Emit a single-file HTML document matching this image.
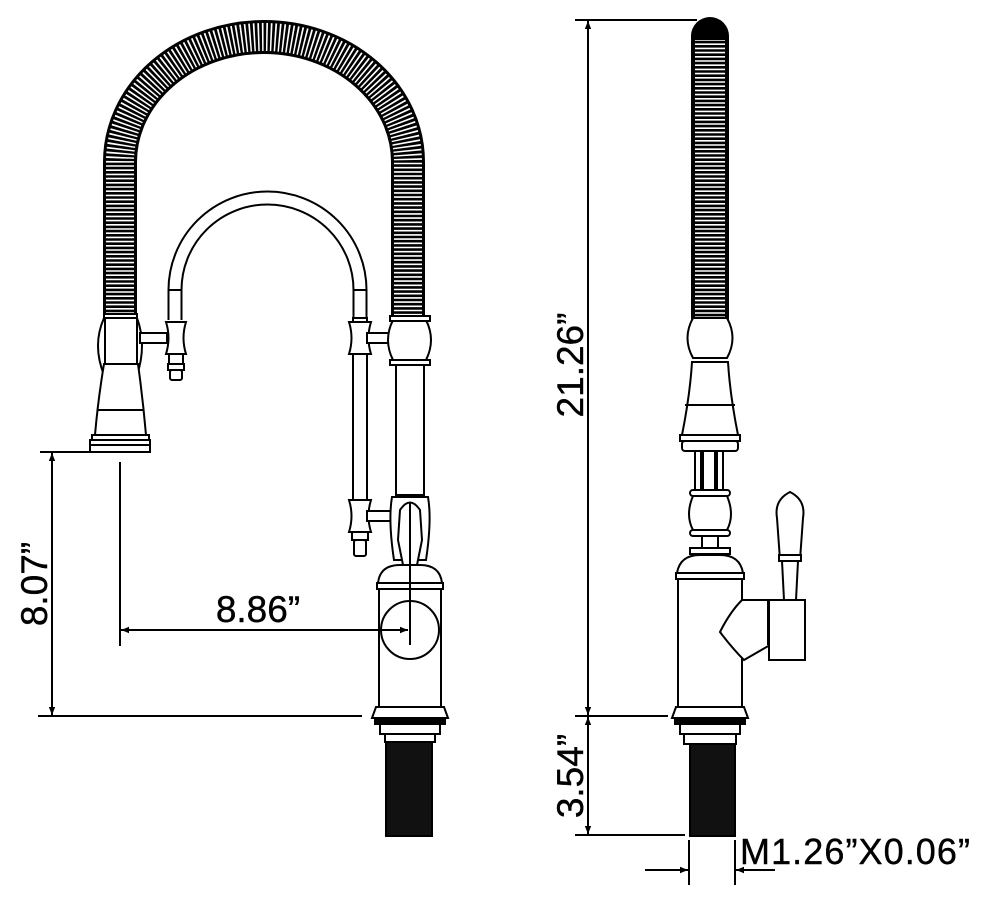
<!DOCTYPE html>
<html><head><style>
html,body{margin:0;padding:0;background:#fff;}
svg{display:block;}
text{font-family:"Liberation Sans",sans-serif;fill:#000;}
</style></head><body>
<svg width="990" height="908" viewBox="0 0 990 908" xmlns="http://www.w3.org/2000/svg">
<defs>
<marker id="ar" viewBox="0 0 10 10" refX="10" refY="5" markerWidth="14" markerHeight="8" orient="auto-start-reverse" markerUnits="userSpaceOnUse"><path d="M0,1 L10,5 L0,9 Z" fill="#000"/></marker>
</defs>
<g fill="none" stroke="#000" stroke-width="2">
<path d="M120,318 L120,162 A144,125 0 0 1 408,162 L408,318" stroke="#000" stroke-width="34"/>
<path d="M120,318 L120,162 A144,125 0 0 1 408,162 L408,318" stroke="#fff" stroke-width="28" stroke-dasharray="1.6 2.6"/>
<path d="M175,320 L175,290 A92.5,92 0 0 1 360,290 L360,320" stroke="#000" stroke-width="15"/>
<path d="M175,321 L175,290 A92.5,92 0 0 1 360,290 L360,321" stroke="#fff" stroke-width="11"/>
<line x1="168" y1="290" x2="182" y2="290"/><line x1="353" y1="290" x2="367" y2="290"/>
<rect x="104" y="314" width="33" height="6" fill="#fff"/>
<path d="M104,318 Q92,345 104,375" /><path d="M137,318 Q147,345 137,375"/>
<rect x="105" y="318" width="32" height="46" fill="#fff"/>
<path d="M104,364 L138,364 Q143,400 146,435 L95,435 Q98,400 104,364 Z" fill="#fff"/>
<line x1="98" y1="410" x2="143" y2="410"/>
<rect x="92" y="435" width="57" height="5" fill="#fff"/>
<rect x="90" y="440" width="60" height="12" fill="#fff"/>
<line x1="90" y1="445" x2="150" y2="445"/>
<rect x="140" y="333" width="27" height="10" fill="#fff"/>
<path d="M166,322 L186,322 Q181,338 186,354 L166,354 Q171,338 166,322 Z" fill="#fff"/>
<rect x="169" y="354" width="14" height="10" fill="#fff"/>
<rect x="168" y="364" width="16" height="6" fill="#fff"/>
<rect x="170" y="370" width="12" height="10" rx="2" fill="#fff"/>
<rect x="353" y="318" width="14" height="190" fill="#fff"/>
<path d="M349,322 L371,322 Q366,338 371,354 L349,354 Q354,338 349,322 Z" fill="#fff"/>
<rect x="367" y="333" width="28" height="10" fill="#fff"/>
<path d="M349,500 L371,500 Q366,516 371,532 L349,532 Q354,516 349,500 Z" fill="#fff"/>
<rect x="367" y="511" width="28" height="10" fill="#fff"/>
<rect x="352" y="532" width="16" height="8" fill="#fff"/>
<rect x="354" y="540" width="12" height="16" rx="2" fill="#fff"/>
<path d="M393,320 L426,320 Q436,340 426,360 L393,360 Q383,340 393,320 Z" fill="#fff"/>
<rect x="390" y="316" width="40" height="5" fill="#fff"/>
<rect x="390" y="360" width="40" height="5" fill="#fff"/>
<rect x="396" y="365" width="28" height="130" fill="#fff"/>
<path d="M392,497 Q388,520 394,560 L426,560 Q432,520 428,497 Z" fill="#fff"/>
<path d="M398,540 L400,510 Q410,495 420,510 L422,540 L416,570 L404,570 Z" fill="#fff"/>
<line x1="410" y1="502" x2="410" y2="645"/>
<path d="M378,583 Q380,565 400,565 L420,565 Q440,565 442,583 Z" fill="#fff"/>
<rect x="377" y="583" width="66" height="6" fill="#fff"/>
<rect x="379" y="589" width="62" height="118" fill="#fff"/>
<circle cx="410" cy="630" r="29" fill="#fff"/>
<line x1="410" y1="566" x2="410" y2="645"/>
<path d="M376,707 L444,707 L448,718 L372,718 Z" fill="#fff"/>
<rect x="375" y="718" width="70" height="6" fill="#000"/>
<rect x="380" y="724" width="60" height="10" fill="#fff"/>
<rect x="385" y="734" width="50" height="8" fill="#fff"/>
<rect x="386" y="742" width="46" height="94" fill="#111"/>
<line x1="38" y1="716" x2="362" y2="716"/>
<line x1="40" y1="452" x2="90" y2="452"/>
<line x1="52" y1="453" x2="52" y2="715" marker-start="url(#ar)" marker-end="url(#ar)"/>
<line x1="120" y1="462" x2="120" y2="646"/>
<line x1="121" y1="630" x2="408" y2="630" marker-start="url(#ar)" marker-end="url(#ar)"/>

<path d="M710,318 L710,36" stroke="#000" stroke-width="38" stroke-linecap="round"/>
<path d="M710,318 L710,40" stroke="#fff" stroke-width="30" stroke-dasharray="1.6 2.6"/>
<path d="M693,318 L727,318 Q738,338 727,358 L693,358 Q682,338 693,318 Z" fill="#fff"/>
<path d="M692,362 L728,362 Q730,395 738,435 L682,435 Q690,395 692,362 Z" fill="#fff"/>
<line x1="685" y1="405" x2="735" y2="405"/>
<rect x="680" y="435" width="60" height="6" fill="#fff"/>
<rect x="682" y="441" width="56" height="10" rx="3" fill="#fff"/>
<rect x="695" y="451" width="6" height="45" fill="#fff"/><rect x="717" y="451" width="6" height="45" fill="#fff"/>
<rect x="703" y="451" width="12" height="45" fill="#fff"/>
<rect x="690" y="490" width="40" height="6" rx="3" fill="#fff"/>
<path d="M693,496 L727,496 Q735,515 727,530 L693,530 Q685,515 693,496 Z" fill="#fff"/>
<rect x="690" y="530" width="40" height="6" rx="3" fill="#fff"/>
<rect x="702" y="536" width="16" height="12" fill="#fff"/>
<rect x="690" y="548" width="40" height="6" fill="#fff"/>
<path d="M677,573 Q680,555 700,555 L720,555 Q740,555 743,573 Z" fill="#fff"/>
<rect x="676" y="573" width="68" height="6" fill="#fff"/>
<rect x="678" y="579" width="64" height="128" fill="#fff"/>
<path d="M742,600 L770,600 L770,645 L744,660 Q732,648 720,632 Q730,612 742,600 Z" fill="#fff"/>
<rect x="769" y="600" width="36" height="60" fill="#fff"/>
<line x1="768" y1="600" x2="768" y2="645"/>
<path d="M780,560 L777,518 Q774,500 790,492 Q806,500 803,518 L800,560 Z" fill="#fff"/>
<rect x="779" y="555" width="22" height="6" fill="#fff"/>
<path d="M782,561 L798,561 L796,600 L784,600 Z" fill="#fff"/>
<path d="M676,707 L744,707 L748,718 L672,718 Z" fill="#fff"/>
<rect x="675" y="718" width="70" height="6" fill="#000"/>
<rect x="680" y="724" width="60" height="10" fill="#fff"/>
<rect x="684" y="734" width="52" height="10" fill="#fff"/>
<rect x="690" y="744" width="45" height="92" fill="#111"/>
<line x1="575" y1="20" x2="697" y2="20"/>
<line x1="575" y1="716" x2="668" y2="716"/>
<line x1="575" y1="835" x2="685" y2="835"/>
<line x1="588" y1="21" x2="588" y2="715" marker-start="url(#ar)" marker-end="url(#ar)"/>
<line x1="588" y1="717" x2="588" y2="834" marker-start="url(#ar)" marker-end="url(#ar)"/>
<line x1="689" y1="840" x2="689" y2="885"/>
<line x1="735" y1="840" x2="735" y2="885"/>
<line x1="645" y1="870" x2="688" y2="870" marker-end="url(#ar)"/>
<line x1="775" y1="870" x2="736" y2="870" marker-end="url(#ar)"/>
</g>
<text x="258" y="622" font-size="37" text-anchor="middle" stroke="#000" stroke-width="0.4">8.86”</text>
<text transform="translate(47,584) rotate(-90)" font-size="37" text-anchor="middle" stroke="#000" stroke-width="0.4">8.07”</text>
<text transform="translate(583,365) rotate(-90)" font-size="37" text-anchor="middle" stroke="#000" stroke-width="0.4">21.26”</text>
<text transform="translate(583,776) rotate(-90)" font-size="37" text-anchor="middle" stroke="#000" stroke-width="0.4">3.54”</text>
<text x="740" y="864" font-size="36" textLength="230" stroke="#000" stroke-width="0.4">M1.26”X0.06”</text>
</svg>
</body></html>
